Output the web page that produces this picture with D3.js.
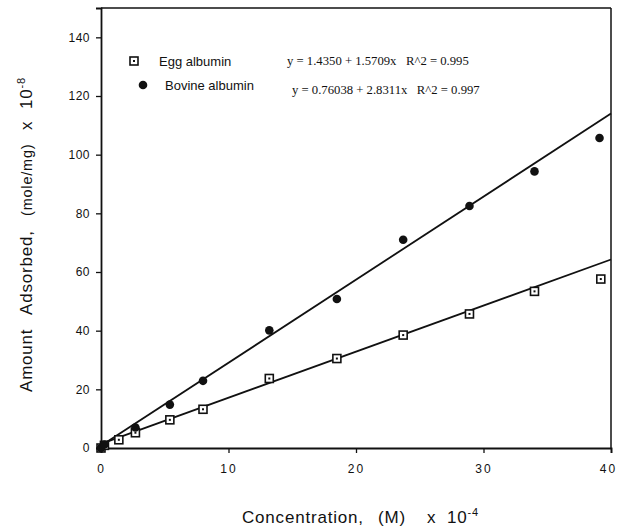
<!DOCTYPE html>
<html>
<head>
<meta charset="utf-8">
<script src="https://cdn.jsdelivr.net/npm/d3@7"></script>
<style>
  html, body { margin: 0; padding: 0; background: #fff; }
  svg text { font-family: "Liberation Sans", Arial, sans-serif; fill: #111; white-space: pre; }
</style>
</head>
<body>
<svg id="chart" width="618" height="527"></svg>
<script>
// Adsorption of two albumins: concentration (M x 10^-4) vs amount adsorbed (mole/mg x 10^-8)
const eggX    = [0, 0.27, 1.4, 2.7, 5.4, 8.0, 13.2, 18.5, 23.7, 28.9, 34.0, 39.2];
const eggY    = [0, 0.9, 2.8, 5.2, 9.6, 13.2, 23.7, 30.5, 38.5, 45.7, 53.4, 57.6];
const bovineX = [0, 0.27, 2.7, 5.4, 8.0, 13.2, 18.5, 23.7, 28.9, 34.0, 39.1];
const bovineY = [0, 1.2, 7.0, 14.8, 22.9, 40.1, 50.8, 71.0, 82.5, 94.3, 105.7];

// Linear fits (intercept, slope) as printed in the legend
const eggFit    = [1.4350, 1.5709];
const bovineFit = [0.76038, 2.8311];

const xTicks = [0, 10, 20, 30, 40];
const yTicks = [0, 20, 40, 60, 80, 100, 120, 140];

const svg = d3.select("#chart");
const x = d3.scaleLinear().domain([0, 40]).range([101, 611]);
const y = d3.scaleLinear().domain([0, 150]).range([448, 8]);

// frame: top and right edges
svg.append("line").attr("x1", x(0)).attr("x2", x(40)).attr("y1", y(150)).attr("y2", y(150))
  .attr("stroke", "#111").attr("stroke-width", 1.5);
svg.append("line").attr("x1", x(40)).attr("x2", x(40)).attr("y1", y(150)).attr("y2", y(0))
  .attr("stroke", "#111").attr("stroke-width", 1.5);

// axes
const xAxis = svg.append("g").attr("transform", `translate(0,${y(0)})`)
  .call(d3.axisBottom(x).tickValues(xTicks).tickSize(5).tickPadding(8).tickFormat(d3.format("d")));
const yAxis = svg.append("g").attr("transform", `translate(${x(0)},0)`)
  .call(d3.axisLeft(y).tickValues(yTicks).tickSize(5).tickPadding(6).tickFormat(d3.format("d")));
[xAxis, yAxis].forEach(g => {
  g.select(".domain").attr("stroke", "#111").attr("stroke-width", 1.8);
  g.selectAll(".tick line").attr("stroke", "#111").attr("stroke-width", 1.3);
  g.selectAll(".tick text").attr("font-family", "Liberation Sans, Arial, sans-serif")
    .attr("font-size", 12).attr("fill", "#111");
});
xAxis.selectAll(".tick text").attr("letter-spacing", 2).attr("dy", "1em")
  .attr("dx", d => d === 40 ? -3 : 0);
yAxis.selectAll(".tick text").attr("letter-spacing", 0.5);

// fitted lines
const line = d3.line().x(d => x(d[0])).y(d => y(d[1]));
[eggFit, bovineFit].forEach(f => {
  svg.append("path")
    .datum([0, 40].map(c => [c, f[0] + f[1] * c]))
    .attr("d", line).attr("fill", "none").attr("stroke", "#111").attr("stroke-width", 1.8);
});

// egg albumin: open squares with a center dot
function square(g, cx, cy) {
  g.append("rect").attr("x", cx - 4).attr("y", cy - 4).attr("width", 8).attr("height", 8)
    .attr("fill", "#fff").attr("stroke", "#111").attr("stroke-width", 1.6);
  g.append("rect").attr("x", cx - 1).attr("y", cy - 1).attr("width", 2).attr("height", 2).attr("fill", "#111");
}
const eggG = svg.append("g");
eggX.forEach((v, i) => square(eggG, x(v), y(eggY[i])));

// bovine albumin: filled dots
svg.append("g").selectAll("circle").data(bovineX).join("circle")
  .attr("cx", d => x(d)).attr("cy", (d, i) => y(bovineY[i])).attr("r", 4.3).attr("fill", "#111");

// legend
square(svg.append("g"), 134, 61);
svg.append("circle").attr("cx", 143).attr("cy", 85).attr("r", 4.3).attr("fill", "#111");
svg.append("text").attr("x", 159).attr("y", 66).attr("font-size", 13).text("Egg albumin");
svg.append("text").attr("x", 165).attr("y", 90).attr("font-size", 13).text("Bovine albumin");
svg.append("text").attr("x", 287).attr("y", 65).attr("font-size", 12.7)
  .style("font-family", "Liberation Serif, Times New Roman, serif")
  .text(`y = ${eggFit[0].toFixed(4)} + ${eggFit[1]}x   R^2 = 0.995`);
svg.append("text").attr("x", 292).attr("y", 94).attr("font-size", 12.7)
  .style("font-family", "Liberation Serif, Times New Roman, serif")
  .text(`y = ${bovineFit[0]} + ${bovineFit[1]}x   R^2 = 0.997`);

// axis titles: words set at fixed offsets along the baseline, wide word gaps
const xt = svg.append("text").attr("y", 523).attr("font-size", 17).attr("letter-spacing", 0.8);
xt.append("tspan").attr("x", 242).text("Concentration,");
xt.append("tspan").attr("x", 378).text("(M)");
xt.append("tspan").attr("x", 427).text("x");
xt.append("tspan").attr("x", 447).text("10");
xt.append("tspan").attr("font-size", 11).attr("dy", -7).text("-4");

const yt = svg.append("text").attr("transform", "translate(32,392) rotate(-90)")
  .attr("font-size", 17).attr("letter-spacing", 0.8);
yt.append("tspan").attr("x", 0).text("Amount");
yt.append("tspan").attr("x", 77).text("Adsorbed,");
yt.append("tspan").attr("x", 176).attr("font-size", 14.5).text("(mole/mg)");
yt.append("tspan").attr("x", 262).text("x");
yt.append("tspan").attr("x", 283).text("10");
yt.append("tspan").attr("font-size", 11).attr("dy", -7).text("-8");
</script>
</body>
</html>
